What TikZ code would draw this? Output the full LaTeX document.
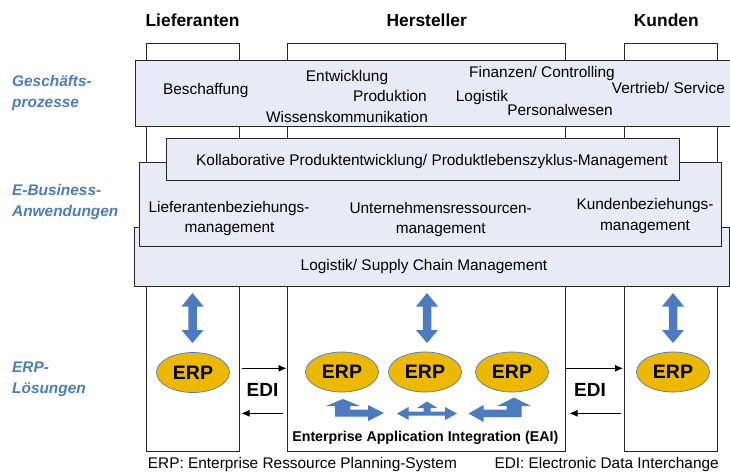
\documentclass[tikz,border=0pt]{standalone}
\usepackage{fontspec}
\setmainfont{Liberation Sans}
\usetikzlibrary{shapes.geometric,arrows.meta}
\definecolor{erpblue}{HTML}{4A7CBF}
\definecolor{erpgold}{HTML}{ECB800}
\definecolor{bandfill}{HTML}{E8EAF6}
\tikzstyle{col} = [draw=black!85, fill=white, line width=1pt, inner sep=0pt]
\tikzstyle{band} = [draw=black!85, fill=bandfill, line width=1pt, inner sep=0pt]
\tikzstyle{txt} = [anchor=base, inner sep=0pt, font=\fontsize{15.4}{21}\selectfont]
\tikzstyle{head} = [anchor=base, inner sep=0pt, font=\fontsize{17.4}{21}\selectfont\bfseries]
\tikzstyle{side} = [anchor=base west, inner sep=0pt, text=erpblue, font=\fontsize{15.4}{21}\selectfont\bfseries\itshape]
\tikzstyle{erp} = [ellipse, draw=erpblue, fill=erpgold, line width=0.7pt, minimum width=73, minimum height=40, inner sep=0pt, font=\fontsize{19.5}{21}\selectfont\bfseries]
\tikzstyle{edi} = [-{Latex[length=8pt,width=7pt]}, line width=0.9pt]
\tikzstyle{ediname} = [anchor=base, inner sep=0pt, font=\fontsize{19}{21}\selectfont\bfseries]
\tikzstyle{block} = [fill=erpblue]

\begin{document}
\begin{tikzpicture}[x=1pt, y=-1pt]
	  \useasboundingbox (0,0) rectangle (730,472);

	  % columns
	  \node (lief) at (193,247) [col, minimum width=93, minimum height=408] {};
	  \node (herst) at (426,247) [col, minimum width=278, minimum height=408] {};
	  \node (kund) at (671,247) [col, minimum width=93, minimum height=408] {};

	  % bands
	  \node (gp) at (433.5,93.2) [band, minimum width=597, minimum height=66.3] {};
	  \node (log) at (432,256.5) [band, minimum width=594.6, minimum height=59] {};
	  \node (eb) at (430.2,204.2) [band, minimum width=581.7, minimum height=83.7] {};
	  \node (kol) at (422.8,159.3) [band, minimum width=513, minimum height=42] {};

	  \node (hl) at (192.5,26) [head] {Lieferanten};
	  \node (hh) at (426.7,26) [head] {Hersteller};
	  \node (hk) at (666.3,26) [head] {Kunden};

	  \node (gp1) at (12,86) [side] {Geschäfts-};
	  \node (gp2) at (12,107) [side] {prozesse};
	  \node (eb1) at (12,195) [side] {E-Business-};
	  \node (eb2) at (12,216) [side] {Anwendungen};
	  \node (el1) at (12,372) [side] {ERP-};
	  \node (el2) at (12,393) [side] {Lösungen};

	  \node (besch) at (205.7,94.3) [txt] {Beschaffung};
	  \node (entw) at (347,81.7) [txt] {Entwicklung};
	  \node (prod) at (390,101.7) [txt] {Produktion};
	  \node (wiss) at (347,122.7) [txt] {Wissenskommunikation};
	  \node (fin) at (542,77.3) [txt] {Finanzen/ Controlling};
	  \node (logi) at (482,101.7) [txt] {Logistik};
	  \node (pers) at (560,115) [txt] {Personalwesen};
	  \node (vert) at (668.4,93.3) [txt] {Vertrieb/ Service};

	  \node (kolt) at (432,165) [txt] {Kollaborative Produktentwicklung/ Produktlebenszyklus-Management};
	  \node (lb1) at (229,212.3) [txt] {Lieferantenbeziehungs-};
	  \node (lb2) at (229.5,232) [txt] {management};
	  \node (ur1) at (440.7,213.3) [txt] {Unternehmensressourcen-};
	  \node (ur2) at (440.7,233.3) [txt] {management};
	  \node (kb1) at (645,209.3) [txt] {Kundenbeziehungs-};
	  \node (kb2) at (645,230) [txt] {management};
	  \node (scm) at (424,270.7) [txt] {Logistik/ Supply Chain Management};

	  % ERP systems
	  \node (e1) at (193,372.5) [erp] {ERP};
	  \node (e2) at (342,372) [erp] {ERP};
	  \node (e3) at (425,372) [erp] {ERP};
	  \node (e4) at (512,372) [erp] {ERP};
	  \node (e5) at (673,372) [erp] {ERP};

	  \fill [block, shift={(192.5,0)}] (0,293) -- (11,306.5) -- (4.25,306.5) -- (4.25,330) -- (11,330) -- (0,343) -- (-11,330) -- (-4.25,330) -- (-4.25,306.5) -- (-11,306.5) -- cycle;
	  \fill [block, shift={(427,0)}] (0,293) -- (11,306.5) -- (4.25,306.5) -- (4.25,330) -- (11,330) -- (0,343) -- (-11,330) -- (-4.25,330) -- (-4.25,306.5) -- (-11,306.5) -- cycle;
	  \fill [block, shift={(673,0)}] (0,293) -- (11,306.5) -- (4.25,306.5) -- (4.25,330) -- (11,330) -- (0,343) -- (-11,330) -- (-4.25,330) -- (-4.25,306.5) -- (-11,306.5) -- cycle;

	  % EAI
	  \fill [block] (335,416.5) -- (335,406) -- (326,406) -- (343,399) -- (360,406) -- (350,406) -- (350,409.5) -- (368,409.5) -- (368,405) -- (384,413) -- (368,421) -- (368,416.5) -- cycle;
	  \fill [block] (397,413.5) -- (408.5,407) -- (408.5,411.5) -- (423.5,411.5) -- (423.5,408) -- (417,408) -- (427,401.5) -- (437.5,408) -- (430.5,408) -- (430.5,411.5) -- (445,411.5) -- (445,407) -- (457,413.5) -- (445,420) -- (445,415.5) -- (408.5,415.5) -- (408.5,420) -- cycle;
	  \fill [block] (521.5,417) -- (521.5,406) -- (531,406) -- (514,397.5) -- (497,406) -- (506.5,406) -- (506.5,409.5) -- (483.5,409.5) -- (483.5,405) -- (468.5,413.5) -- (483.5,422) -- (483.5,417) -- cycle;
	  \node (eai) at (425.3,441.7) [anchor=base, inner sep=0pt, font=\fontsize{14.2}{21}\selectfont\bfseries] {Enterprise Application Integration (EAI)};

	  % EDI
	  \draw [edi, shorten <=1.5pt] (lief.east |- 0,368.3) to (herst.west |- 0,368.3);
	  \draw [edi, shorten <=4pt, shorten >=1.5pt] (herst.west |- 0,413.3) to (lief.east |- 0,413.3);
	  \draw [edi, shorten >=1pt] (herst.east |- 0,368.3) to (kund.west |- 0,368.3);
	  \draw [edi, shorten <=3pt, shorten >=4pt] (kund.west |- 0,413.3) to (herst.east |- 0,413.3);
	  \node (edil) at (262.5,396.7) [ediname] {EDI};
	  \node (edir) at (590,396.7) [ediname] {EDI};

	  \node (fe) at (147.7,468.3) [txt, anchor=base west] {ERP: Enterprise Ressource Planning-System};
	  \node (fd) at (494.3,468.3) [txt, anchor=base west] {EDI: Electronic Data Interchange};
\end{tikzpicture}
\end{document}
